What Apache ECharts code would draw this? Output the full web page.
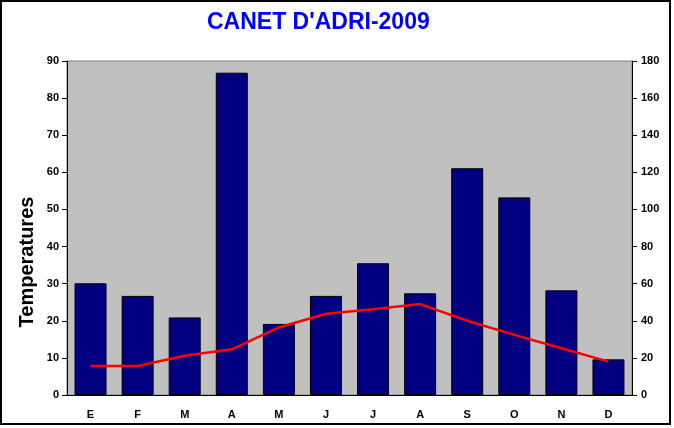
<!DOCTYPE html>
<html>
<head>
<meta charset="utf-8">
<script src="https://cdn.jsdelivr.net/npm/echarts@6/dist/echarts.min.js"></script>
<style>
html,body{margin:0;padding:0;background:#fff;}
#chart{width:674px;height:428px;}
</style>
</head>
<body>
<div id="chart"></div>
<script>
var months = ['E','F','M','A','M','J','J','A','S','O','N','D'];
var precipitation = [60.2, 53.4, 41.8, 173.7, 38.3, 53.4, 71.0, 54.8, 122.2, 106.5, 56.4, 19.2];
var temperature = [7.8, 7.8, 10.6, 12.3, 18.2, 21.9, 23.1, 24.5, 20.0, 16.2, 12.6, 9.0];
var leftTicks = {min: 0, max: 90, interval: 10};
var rightTicks = {min: 0, max: 180, interval: 20};
var titleText = "CANET D'ADRI-2009";
var leftName = 'Temperatures';

var chart = echarts.init(document.getElementById('chart'), null, {renderer: 'canvas'});
var font = '"Liberation Sans", Arial, sans-serif';
var lbl = {color: '#000', fontWeight: 'bold', fontSize: 11, fontFamily: font};
chart.setOption({
  animation: false,
  backgroundColor: '#fff',
  title: {
    text: titleText,
    left: 207, top: 11, padding: 0,
    textStyle: {color: '#0000ff', fontWeight: 'bold', fontSize: 23, fontFamily: font}
  },
  graphic: [
    {type: 'rect', shape: {x: 1, y: 1, width: 669, height: 423}, style: {fill: 'none', stroke: '#000', lineWidth: 2}, z: 100, silent: true},
    {type: 'text', x: 27, y: 262, rotation: Math.PI / 2,
     style: {text: leftName, fill: '#000', font: 'bold 20px "Liberation Sans", Arial, sans-serif', textAlign: 'center', textVerticalAlign: 'middle'}}
  ],
  grid: {left: 67, right: 42, top: 61, bottom: 33, show: true, backgroundColor: '#c0c0c0', borderColor: '#808080', borderWidth: 1},
  xAxis: {
    type: 'category', data: months,
    axisLine: {lineStyle: {color: '#000', width: 1}},
    axisTick: {alignWithLabel: true, length: 5, lineStyle: {color: '#000'}},
    axisLabel: Object.assign({margin: 14, interval: 0}, lbl),
    splitLine: {show: false}
  },
  yAxis: [
    {type: 'value', min: leftTicks.min, max: leftTicks.max, interval: leftTicks.interval, position: 'left',
     axisLine: {show: true, lineStyle: {color: '#000'}},
     axisTick: {show: true, length: 5, lineStyle: {color: '#000'}},
     axisLabel: Object.assign({margin: 8}, lbl),
     splitLine: {show: false}},
    {type: 'value', min: rightTicks.min, max: rightTicks.max, interval: rightTicks.interval, position: 'right',
     axisLine: {show: true, lineStyle: {color: '#000'}},
     axisTick: {show: true, length: 5, lineStyle: {color: '#000'}},
     axisLabel: Object.assign({margin: 9}, lbl),
     splitLine: {show: false}}
  ],
  series: [
    {type: 'bar', yAxisIndex: 1, data: precipitation, barWidth: 32,
     itemStyle: {color: '#000080', borderColor: '#000', borderWidth: 1}, z: 2},
    {type: 'line', yAxisIndex: 0, data: temperature, showSymbol: false, symbol: 'none',
     lineStyle: {color: '#ff0000', width: 2.5}, z: 5}
  ]
});
</script>
</body>
</html>
